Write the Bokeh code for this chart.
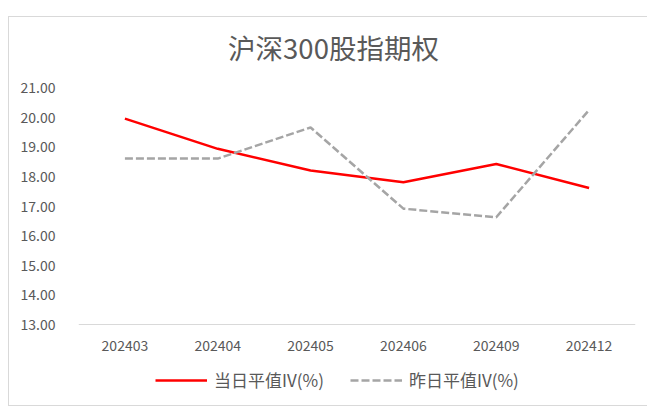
from bokeh.plotting import figure
from bokeh.models import (Range1d, FactorRange, Legend, LegendItem, Label,
                          NumeralTickFormatter, FixedTicker, ColumnDataSource)
from bokeh.embed import file_html
from bokeh.resources import INLINE

# ---- data ----
categories = ["202403", "202404", "202405", "202406", "202409", "202412"]
iv_today = [19.95, 18.93, 18.20, 17.80, 18.42, 17.61]
iv_yesterday = [18.60, 18.60, 19.65, 16.91, 16.62, 20.24]
y_ticks = [13, 14, 15, 16, 17, 18, 19, 20, 21]
title_text = "沪深300股指期权"
label_today = "当日平值IV(%)"
label_yesterday = "昨日平值IV(%)"

FONT = "Noto Sans CJK SC"
TXT = "#595959"

# plot-area geometry (pixels): value axis 13 -> 21 spans 237 px; extra room above/below
PX_PER_UNIT = 237 / 8.0
Y_LO = 13 - 81 / PX_PER_UNIT
Y_HI = 21 + 71 / PX_PER_UNIT

src = ColumnDataSource(dict(cat=categories, today=iv_today, yest=iv_yesterday))

p = figure(x_range=FactorRange(factors=categories), y_range=Range1d(Y_LO, Y_HI),
           width=647, height=406, output_backend="svg", toolbar_location=None,
           min_border_left=78, min_border_right=12, min_border_top=16, min_border_bottom=1)
p.outline_line_color = None
p.border_fill_alpha = 0
p.background_fill_alpha = 0
p.xgrid.grid_line_color = None
p.ygrid.grid_line_color = None

p.yaxis.ticker = FixedTicker(ticks=y_ticks)
p.yaxis.formatter = NumeralTickFormatter(format="0.00")
p.yaxis.axis_line_color = None
p.yaxis.major_tick_line_color = None
p.yaxis.minor_tick_line_color = None
p.yaxis.major_label_standoff = 17
p.yaxis.major_label_text_font = FONT
p.yaxis.major_label_text_font_size = "14px"
p.yaxis.major_label_text_color = TXT

p.xaxis.fixed_location = y_ticks[0]
p.xaxis.axis_line_color = "#D9D9D9"
p.xaxis.axis_line_width = 1
p.xaxis.major_tick_line_color = None
p.xaxis.minor_tick_line_color = None
p.xaxis.major_label_standoff = 9
p.xaxis.major_label_text_font = FONT
p.xaxis.major_label_text_font_size = "14px"
p.xaxis.major_label_text_color = TXT

r1 = p.line(x="cat", y="today", source=src, line_color="#FF0000", line_width=2.5)
r2 = p.line(x="cat", y="yest", source=src, line_color="#A5A5A5", line_width=2.5,
            line_dash="8 3")

legend = Legend(items=[LegendItem(label=label_today, renderers=[r1]),
                       LegendItem(label=label_yesterday, renderers=[r2])],
                orientation="horizontal", location=(77, 13),
                glyph_width=52, glyph_height=14, label_standoff=7, spacing=26,
                padding=0, margin=0, border_line_color=None, background_fill_alpha=0,
                label_text_font=FONT, label_text_font_size="17px", label_text_color=TXT)
p.add_layout(legend)

title = Label(x=255, y=359, x_units="screen", y_units="screen", text=title_text,
              text_align="center", text_baseline="middle", text_font=FONT,
              text_font_size="27.5px", text_color=TXT)
p.add_layout(title)

G = "linear-gradient(#D9D9D9,#D9D9D9)"
p.styles = {"background": (f"{G} 8px 16px / calc(100% - 8px) 1px no-repeat, "
                           f"{G} 8px 16px / 1px calc(100% - 16px) no-repeat, "
                           f"{G} 8px 100% / calc(100% - 8px) 1px no-repeat, white")}

open("out.html", "w").write(file_html(p, INLINE))
